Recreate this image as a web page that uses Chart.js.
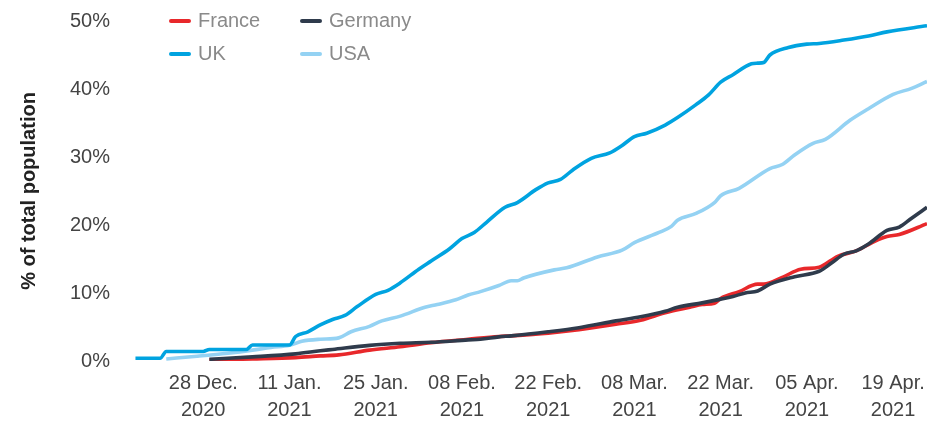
<!DOCTYPE html>
<html>
<head>
<meta charset="utf-8">
<script src="https://cdn.jsdelivr.net/npm/chart.js@4"></script>
<style>
  html, body { margin: 0; padding: 0; background: #fff; }
  #wrap { position: relative; width: 927px; height: 426px; }
  #legend { position: absolute; left: 169px; top: 4px; font-family: "Liberation Sans", Arial, sans-serif; font-size: 20px; color: #8a8a8a; }
  .row { display: flex; height: 33px; align-items: center; }
  .item { display: flex; align-items: center; width: 131px; }
  .swatch { width: 22px; height: 4px; border-radius: 2px; margin-right: 7px; }
</style>
</head>
<body>
<div id="wrap">
  <canvas id="c" width="927" height="426"></canvas>
  <div id="legend"></div>
</div>
<script>
// Day offsets are counted from 28 Dec. 2020 (day 0).
const tickDays = [0, 14, 28, 42, 56, 70, 84, 98, 112];
const tickDates = ["28 Dec.", "11 Jan.", "25 Jan.", "08 Feb.", "22 Feb.", "08 Mar.", "22 Mar.", "05 Apr.", "19 Apr."];
const tickYears = ["2020", "2021", "2021", "2021", "2021", "2021", "2021", "2021", "2021"];

const seriesNames = ["France", "Germany", "UK", "USA"];
const seriesColors = ["#e8282b", "#2f3b4c", "#00a3e0", "#94d2f3"];

const franceDays = [1, 8, 15, 19, 22, 27, 32, 37, 43, 48, 50, 56, 61, 67, 71, 75, 79, 81, 83, 84, 87, 90, 91, 94, 97, 100, 103, 106, 109, 111, 113, 117.5];
const franceValues = [0.15, 0.3, 0.5, 0.75, 0.9, 1.6, 2.1, 2.7, 3.2, 3.6, 3.7, 4.1, 4.6, 5.4, 6.0, 7.1, 7.9, 8.3, 8.5, 9.2, 10.2, 11.3, 11.3, 12.3, 13.5, 13.8, 15.4, 16.2, 17.6, 18.3, 18.6, 20.2];

const germanyDays = [1, 8, 15, 19, 21, 27, 32, 37, 43, 45, 48, 50, 56, 61, 67, 71, 75, 77, 81, 84, 86, 88, 90, 92, 96, 100, 102, 104, 106, 108, 111, 113, 115, 117.5];
const germanyValues = [0.25, 0.6, 1.05, 1.5, 1.7, 2.3, 2.6, 2.75, 3.1, 3.2, 3.55, 3.7, 4.3, 4.9, 5.9, 6.5, 7.3, 7.9, 8.55, 9.1, 9.5, 10.0, 10.3, 11.3, 12.4, 13.2, 14.4, 15.7, 16.2, 17.2, 19.2, 19.7, 21.0, 22.6];

const ukDays = [-11, -7, -6, 0, 1, 7, 8, 14, 15, 17, 19, 21, 23, 25, 28, 30, 32, 35, 37, 40, 42, 44, 46, 49, 51, 54, 56, 58, 60, 63, 66, 68, 70, 72, 75, 77, 80, 82, 84, 86, 89, 90, 91, 92, 95, 98, 100, 104, 108, 111, 117.5];
const ukValues = [0.4, 0.4, 1.4, 1.4, 1.7, 1.7, 2.35, 2.35, 3.6, 4.3, 5.3, 6.1, 6.7, 8.0, 9.8, 10.4, 11.5, 13.5, 14.7, 16.5, 18.0, 18.9, 20.4, 22.6, 23.3, 25.2, 26.2, 26.7, 28.1, 29.8, 30.6, 31.7, 33.0, 33.5, 34.7, 35.8, 37.7, 39.1, 41.0, 42.1, 43.7, 43.8, 43.9, 45.0, 46.1, 46.6, 46.7, 47.2, 47.8, 48.4, 49.3];

const usaDays = [-6, -1, 4, 8, 11, 14, 16, 19, 22, 24, 27, 29, 32, 36, 38, 41, 43, 45, 48, 50, 51, 52, 57, 59, 64, 68, 70, 74, 76, 77, 80, 83, 84, 87, 92, 94, 96, 99, 101, 105, 108, 112, 115, 117.5];
const usaValues = [0.3, 0.7, 1.15, 1.6, 2.0, 2.3, 2.9, 3.2, 3.4, 4.3, 5.1, 5.9, 6.6, 7.9, 8.3, 9.0, 9.7, 10.2, 11.1, 11.8, 11.8, 12.2, 13.4, 13.7, 15.3, 16.3, 17.4, 18.9, 19.8, 20.7, 21.7, 23.3, 24.3, 25.4, 28.3, 28.9, 30.3, 32.0, 32.6, 35.4, 37.1, 39.2, 40.1, 41.1];

const allDays = [franceDays, germanyDays, ukDays, usaDays];
const allValues = [franceValues, germanyValues, ukValues, usaValues];

const FONT = "'Liberation Sans', Arial, sans-serif";

const datasets = seriesNames.map((name, i) => ({
  label: name,
  data: allDays[i].map((d, j) => ({ x: d, y: allValues[i][j] })),
  borderColor: seriesColors[i],
  backgroundColor: seriesColors[i],
  borderWidth: 3.6,
  pointRadius: 0,
  cubicInterpolationMode: "monotone",
  fill: false
}));

const order = [3, 2, 0, 1];
datasets.forEach((ds, i) => ds.order = order[i]);

new Chart(document.getElementById("c"), {
  type: "line",
  data: { datasets },
  options: {
    responsive: false,
    animation: false,
    layout: { padding: { top: 21, right: 0, left: 0, bottom: 0 } },
    plugins: { legend: { display: false }, tooltip: { enabled: false } },
    scales: {
      x: {
        type: "linear",
        min: -11.4,
        max: 117.5,
        grid: { display: false, drawTicks: false },
        border: { display: false },
        afterBuildTicks: (scale) => { scale.ticks = tickDays.map(v => ({ value: v })); },
        afterFit: (scale) => { scale.height = 65; scale.paddingLeft = 0; scale.paddingRight = 0; },
        ticks: {
          autoSkip: false,
          maxRotation: 0,
          padding: 9,
          color: "#444",
          font: { family: FONT, size: 20, lineHeight: 1.35 },
          callback: (v) => {
            const k = tickDays.indexOf(v);
            return k >= 0 ? [tickDates[k], tickYears[k]] : "";
          }
        }
      },
      y: {
        min: 0,
        max: 50,
        grid: { display: false, drawTicks: false },
        border: { display: false },
        afterFit: (scale) => { scale.width = 133; scale.paddingTop = 0; scale.paddingBottom = 0; },
        ticks: {
          stepSize: 10,
          padding: 23,
          color: "#444",
          font: { family: FONT, size: 20 },
          callback: (v) => v + "%"
        },
        title: {
          display: true,
          text: "% of total population",
          color: "#222",
          padding: { top: 17, bottom: 0 },
          font: { family: FONT, size: 20, weight: "bold" }
        }
      }
    }
  }
});

const legend = document.getElementById("legend");
for (let r = 0; r < 2; r++) {
  const row = document.createElement("div");
  row.className = "row";
  for (let c = 0; c < 2; c++) {
    const k = r * 2 + c;
    const item = document.createElement("div");
    item.className = "item";
    const sw = document.createElement("div");
    sw.className = "swatch";
    sw.style.background = seriesColors[k];
    const tx = document.createElement("span");
    tx.textContent = seriesNames[k];
    item.appendChild(sw);
    item.appendChild(tx);
    row.appendChild(item);
  }
  legend.appendChild(row);
}
</script>
</body>
</html>
